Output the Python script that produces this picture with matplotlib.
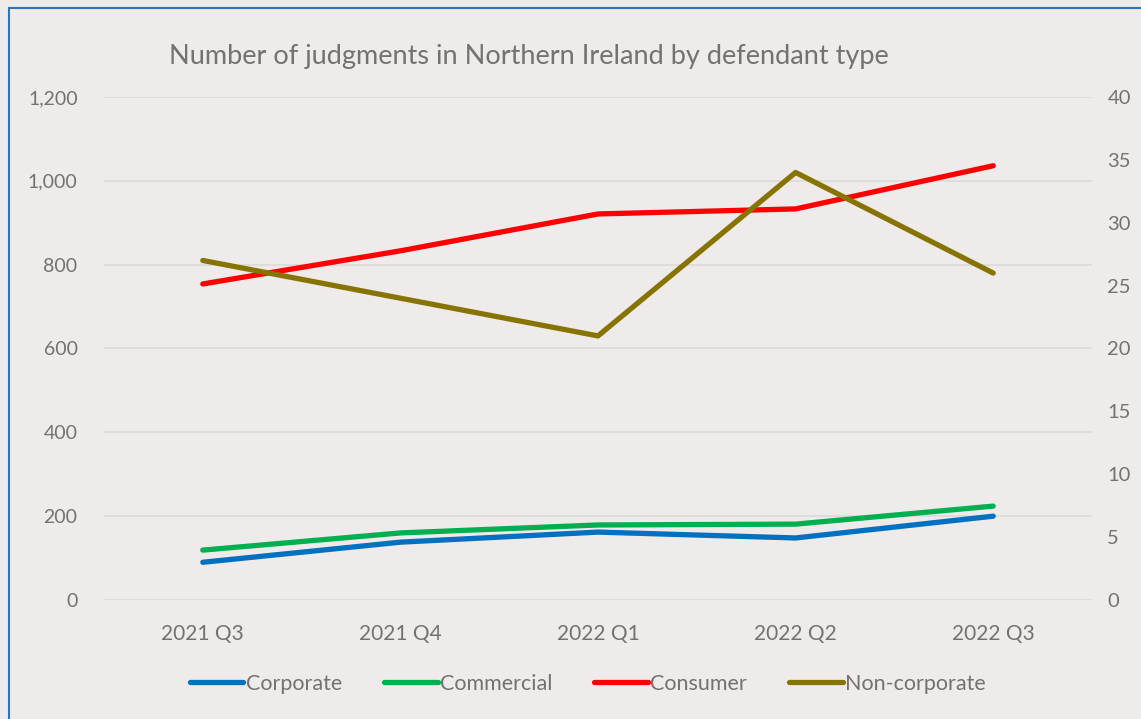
import numpy as np
import matplotlib.pyplot as plt
from matplotlib.patches import Rectangle

plt.rcParams["font.family"] = ["Lato", "DejaVu Sans"]

quarters = ["2021 Q3", "2021 Q4", "2022 Q1", "2022 Q2", "2022 Q3"]
corporate = [90, 138, 162, 148, 200]
commercial = [119, 160, 179, 181, 224]
consumer = [754, 833, 921, 933, 1036]
non_corporate = [27, 24, 21, 34, 26]

BG = "#EEEBEA"
TXT = "#767171"
GRID = "#DDDAD8"

fig = plt.figure(figsize=(11.41, 7.19), dpi=100, facecolor=BG)
ax = fig.add_axes([104 / 1141, 1 - 600 / 719, (1092 - 104) / 1141, (600 - 97) / 719])
ax.set_facecolor(BG)
ax2 = ax.twinx()

x = np.arange(len(quarters))
lw = 3.8
l1, = ax.plot(x, corporate, color="#0070C0", lw=lw, solid_capstyle="round", label="Corporate")
l2, = ax.plot(x, commercial, color="#00B050", lw=lw, solid_capstyle="round", label="Commercial")
l3, = ax.plot(x, consumer, color="#FF0000", lw=lw, solid_capstyle="round", label="Consumer")
l4, = ax2.plot(x, non_corporate, color="#877400", lw=lw, solid_capstyle="round", label="Non-corporate")

ax.set_xlim(-0.5, len(quarters) - 0.5)
ax.set_ylim(0, 1200)
ax.set_yticks(range(0, 1201, 200))
ax.set_yticklabels([f"{v:,}" for v in range(0, 1201, 200)])
ax2.set_ylim(0, 40)
ax2.set_yticks(range(0, 41, 5))
ax.set_xticks(x)
ax.set_xticklabels(quarters)

ax.grid(axis="y", color=GRID, lw=1.2)
ax.set_axisbelow(True)
for a in (ax, ax2):
    for s in a.spines.values():
        s.set_visible(False)
    a.tick_params(length=0, colors=TXT, labelsize=14)
ax.tick_params(axis="x", labelsize=15, pad=17)
ax.tick_params(axis="y", pad=19)
ax2.tick_params(axis="y", labelsize=14.5, pad=11)

fig.text(0.148, 0.922, "Number of judgments in Northern Ireland by defendant type",
         color=TXT, fontsize=19.5, va="center", ha="left")

fig.legend(handles=[l1, l2, l3, l4], loc="center", bbox_to_anchor=(0.515, 0.049),
           ncol=4, frameon=False, fontsize=15.5, labelcolor=TXT,
           handlelength=2.5, handletextpad=0.1, columnspacing=1.95)

fig.patches.append(Rectangle((9 / 1141, -0.1), 1.2, 1 - 8 / 719 + 0.1,
                             transform=fig.transFigure, fill=False,
                             edgecolor="#2E75B6", lw=1.5))

fig.savefig("out.png", dpi=100, facecolor=BG)
